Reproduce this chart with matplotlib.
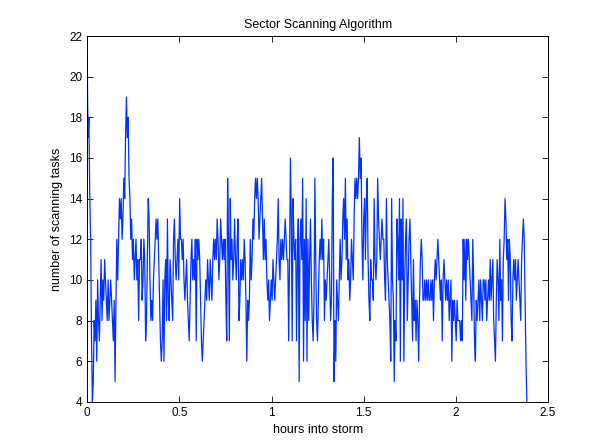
import numpy as np
import matplotlib
matplotlib.use("Agg")
import matplotlib.pyplot as plt

# number of scanning tasks in chunks (left to right)
seg1 = [21, 17, 18, 14, 12, 7, 4, 5, 8, 7, 9, 6, 10, 8, 7, 9, 11, 8, 10, 9, 11, 10, 9, 8, 10, 8, 9, 10, 9, 8,
        7, 9, 5, 9, 12, 10, 12, 14, 13, 14, 12, 13, 15, 14, 17, 19, 17, 18, 15, 14, 12, 13, 11, 12, 10, 11, 12,
        10, 11, 8, 11]
seg2 = [11, 12, 9, 10, 12, 11, 7, 8, 11, 14, 13, 10, 8, 9, 8, 10, 11, 12, 13, 12, 13, 11, 9, 7, 6, 7, 10, 6,
        10, 11, 8, 13, 9, 8, 11, 10, 9, 8, 12, 13, 11, 10, 11, 12, 10, 14, 12, 12, 11, 12, 10, 9, 10, 11, 9, 8,
        7, 9, 11, 12, 10, 11, 10, 12, 7, 12, 11]
seg3 = [12, 11, 9, 7, 6, 7, 8, 9, 10, 9, 11, 10, 9, 11, 10, 9, 11, 12, 11, 12, 11, 13, 12, 10, 11, 13, 12, 11,
        12, 11, 12, 9, 7, 15, 12, 7, 14, 11, 12, 10, 11, 13, 11, 10, 12, 13, 8, 9, 11, 10, 11, 10, 12, 11, 9, 6,
        9, 8, 9, 12, 10, 11, 13, 12, 14, 15, 14, 15]
seg4 = [14, 12, 13, 14, 15, 13, 11, 13, 11, 12, 10, 9, 10, 8, 9, 10, 9, 11, 10, 9, 10, 11, 12, 14, 11, 10, 12,
        11, 12, 11, 12, 13, 12, 11, 11, 7, 11, 16, 13, 7, 14, 12, 11, 12, 7, 11, 13, 5, 12, 13, 11, 15, 6, 12,
        8, 14, 6, 12, 8, 11, 13, 10, 8, 7, 9]
seg5 = [15, 11, 8, 7, 9, 11, 12, 11, 13, 11, 12, 8, 10, 9, 10, 11, 12, 10, 8, 9, 14, 16, 5, 8, 6, 10, 9, 8, 10,
        12, 10, 11, 13, 14, 12, 15, 11, 13, 10, 11, 9, 10, 12, 11, 10, 13, 15, 14, 15, 14, 15, 17, 15, 16, 12,
        10, 13, 14, 11, 14, 15, 11, 9, 8, 11, 10, 10]
seg6 = [9, 14, 11, 10, 11, 15, 13, 12, 11, 12, 13, 12, 12, 10, 9, 14, 11, 10, 9, 8, 6, 14, 10, 9, 5, 8, 7, 13,
        12, 10, 14, 6, 13, 10, 14, 6, 10, 12, 13, 8, 10, 12, 13, 11, 9, 7, 11, 8, 9, 7, 9, 8, 6, 9, 11, 12, 11,
        9, 9, 10, 9, 10, 9, 10, 9]
seg7 = [9, 10, 9, 10, 8, 10, 11, 10, 11, 12, 11, 10, 9, 10, 7, 10, 11, 10, 9, 10, 9, 10, 8, 9, 10, 6, 9, 8, 9,
        8, 7, 9, 8, 8, 8, 7, 8, 7, 12, 10, 12, 9, 12, 11, 12, 11, 10, 9, 8, 12, 10, 7, 6, 9, 8, 9, 10, 8, 10]
seg8 = [9, 8, 10, 10, 9, 10, 8, 9, 10, 9, 11, 9, 10, 11, 8, 7, 6, 9, 11, 10, 8, 12, 9, 10, 7, 11, 12, 14, 13,
        11, 12, 9, 12, 11, 8, 7, 10, 11, 10, 11, 9, 10, 11, 10, 9, 8, 11, 12, 13, 12, 9, 6, 4]

tasks = seg1 + seg2 + seg3 + seg4 + seg5 + seg6 + seg7 + seg8
end_hours = 2.385
hours = np.arange(len(tasks)) * end_hours / (len(tasks) - 1)

xticks = [0, 0.5, 1, 1.5, 2, 2.5]
xticklabels = ["0", "0.5", "1", "1.5", "2", "2.5"]
yticks = list(range(4, 23, 2))

plt.rcParams['font.family'] = ['Liberation Sans', 'DejaVu Sans']

fig = plt.figure(figsize=(5.97, 4.45), dpi=100)
ax = fig.add_axes([0.146, 0.097, 0.772, 0.822])
ax.plot(hours, tasks, color='#0033ff', linewidth=0.9)

ax.set_xlim(0, 2.5)
ax.set_ylim(4, 22)
ax.set_xticks(xticks)
ax.set_xticklabels(xticklabels)
ax.set_yticks(yticks)
ax.tick_params(direction='in', top=True, right=True, labelsize=8.5, length=4, width=0.6)
for s in ax.spines.values():
    s.set_linewidth(0.7)

ax.set_title('Sector Scanning Algorithm', fontsize=9)
ax.set_xlabel('hours into storm', fontsize=9)
ax.set_ylabel('number of scanning tasks', fontsize=9)

fig.savefig('out.png', dpi=100)
